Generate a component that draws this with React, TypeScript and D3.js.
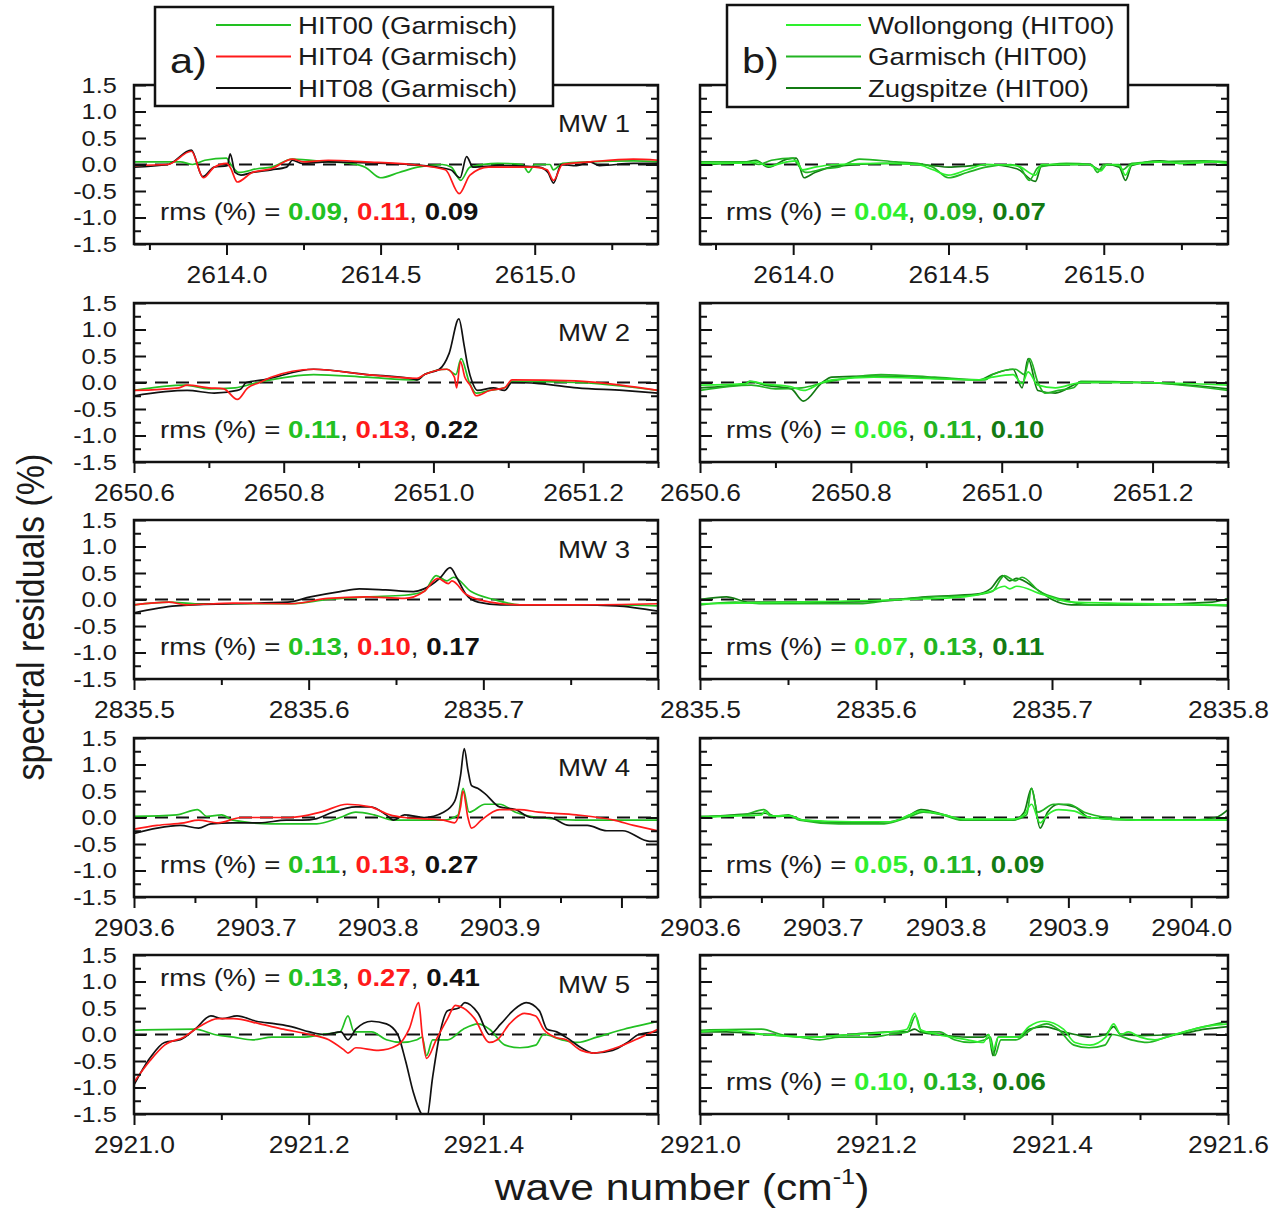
import React, { useEffect, useRef } from 'react';
import * as d3 from 'd3';

type Pt = [number, number];

// MW 1 (2613.7 - 2615.4 cm-1)
const mw1Hit00: Pt[] = [[2613.70, 0.05], [2613.85, 0.05], [2613.89, 0.0], [2613.93, 0.08], [2614.0, 0.12], [2614.012, 0.02], [2614.04, -0.15], [2614.1, -0.08], [2614.146, -0.05], [2614.214, 0.1], [2614.33, 0.05], [2614.4, 0.02], [2614.45, -0.05], [2614.5, -0.25], [2614.56, -0.15], [2614.62, -0.05], [2614.7, 0.0], [2614.73, -0.05], [2614.76, -0.3], [2614.79, -0.05], [2614.88, 0.02], [2614.96, 0.0], [2614.98, -0.15], [2615.0, 0.0], [2615.05, 0.0], [2615.06, -0.1], [2615.09, 0.02], [2615.18, 0.05], [2615.32, 0.07], [2615.4, 0.05]];
const mw1Hit04: Pt[] = [[2613.70, -0.02], [2613.81, 0.0], [2613.886, 0.25], [2613.925, -0.25], [2613.96, -0.05], [2614.0, 0.02], [2614.012, -0.05], [2614.035, -0.33], [2614.084, -0.15], [2614.146, -0.08], [2614.214, 0.1], [2614.25, 0.05], [2614.33, 0.08], [2614.45, 0.05], [2614.6, 0.0], [2614.71, -0.1], [2614.755, -0.55], [2614.79, -0.2], [2614.85, -0.05], [2615.0, -0.05], [2615.04, -0.1], [2615.061, -0.3], [2615.09, 0.0], [2615.18, 0.05], [2615.32, 0.1], [2615.4, 0.08]];
const mw1Hit08: Pt[] = [[2613.70, -0.05], [2613.81, 0.0], [2613.886, 0.27], [2613.923, -0.23], [2613.96, -0.05], [2614.003, -0.02], [2614.012, 0.2], [2614.028, -0.15], [2614.047, -0.2], [2614.084, -0.15], [2614.146, -0.1], [2614.195, -0.05], [2614.214, 0.08], [2614.245, 0.02], [2614.33, 0.05], [2614.517, 0.02], [2614.64, -0.02], [2614.727, -0.1], [2614.758, -0.25], [2614.779, 0.15], [2614.8, -0.05], [2614.888, -0.02], [2615.014, -0.05], [2615.043, -0.15], [2615.061, -0.35], [2615.086, 0.0], [2615.136, -0.02], [2615.179, 0.05], [2615.21, -0.02], [2615.32, 0.02], [2615.4, 0.02]];
const mw1Wol: Pt[] = [[2613.7, 0.02], [2613.85, 0.03], [2613.88, 0.05], [2613.92, -0.03], [2613.98, 0.05], [2614.01, 0.07], [2614.03, -0.1], [2614.07, -0.05], [2614.14, 0.0], [2614.3, 0.02], [2614.4, 0.0], [2614.45, -0.1], [2614.5, -0.2], [2614.56, -0.1], [2614.62, 0.0], [2614.72, -0.02], [2614.78, -0.2], [2614.8, 0.0], [2614.95, 0.0], [2614.99, -0.12], [2615.01, 0.0], [2615.05, -0.02], [2615.07, -0.2], [2615.09, 0.0], [2615.18, 0.05], [2615.25, 0.02], [2615.35, 0.05], [2615.4, 0.02]];
const mw1Zug: Pt[] = [[2613.7, 0.0], [2613.85, 0.05], [2613.88, 0.08], [2613.92, -0.05], [2613.98, 0.1], [2614.01, 0.12], [2614.035, -0.25], [2614.07, -0.15], [2614.14, -0.03], [2614.3, 0.02], [2614.4, 0.0], [2614.45, -0.02], [2614.5, -0.05], [2614.56, -0.03], [2614.62, 0.0], [2614.72, -0.08], [2614.78, -0.32], [2614.8, -0.02], [2614.95, 0.0], [2614.99, -0.1], [2615.01, 0.0], [2615.05, -0.05], [2615.07, -0.3], [2615.09, -0.02], [2615.18, 0.07], [2615.25, 0.02], [2615.35, 0.05], [2615.4, 0.03]];

// MW 2 (2650.6 - 2651.3 cm-1)
const mw2Hit00: Pt[] = [[2650.6, -0.15], [2650.668, -0.05], [2650.7, -0.12], [2650.735, -0.1], [2650.765, 0.0], [2650.84, 0.15], [2650.911, 0.1], [2650.978, 0.05], [2650.988, 0.15], [2651.018, 0.25], [2651.03, 0.15], [2651.037, 0.45], [2651.048, 0.0], [2651.057, -0.2], [2651.075, -0.15], [2651.095, -0.1], [2651.105, 0.02], [2651.19, 0.0], [2651.3, -0.15]];
const mw2Hit04: Pt[] = [[2650.6, -0.15], [2650.66, -0.1], [2650.671, -0.05], [2650.7, -0.1], [2650.72, -0.12], [2650.738, -0.32], [2650.752, -0.1], [2650.768, 0.0], [2650.783, 0.1], [2650.84, 0.25], [2650.911, 0.15], [2650.978, 0.08], [2650.988, 0.15], [2651.018, 0.25], [2651.028, 0.1], [2651.031, -0.1], [2651.036, 0.4], [2651.042, 0.1], [2651.049, -0.05], [2651.057, -0.25], [2651.075, -0.15], [2651.095, -0.1], [2651.105, 0.05], [2651.19, 0.03], [2651.25, -0.05], [2651.3, -0.15]];
const mw2Hit08: Pt[] = [[2650.6, -0.25], [2650.671, -0.15], [2650.707, -0.2], [2650.738, -0.15], [2650.743, -0.12], [2650.75, 0.0], [2650.773, 0.05], [2650.84, 0.25], [2650.911, 0.15], [2650.972, 0.07], [2650.978, 0.05], [2650.988, 0.15], [2651.008, 0.25], [2651.021, 0.55], [2651.034, 1.2], [2651.041, 0.7], [2651.046, 0.3], [2651.052, 0.0], [2651.059, -0.15], [2651.08, -0.1], [2651.095, -0.15], [2651.105, 0.0], [2651.141, -0.02], [2651.192, -0.1], [2651.253, -0.15], [2651.3, -0.2]];
const mw2Wol: Pt[] = [[2650.6, -0.05], [2650.661, -0.02], [2650.666, 0.02], [2650.686, -0.03], [2650.721, -0.08], [2650.737, -0.15], [2650.762, 0.0], [2650.775, 0.05], [2650.83, 0.1], [2650.97, 0.05], [2650.987, 0.1], [2651.015, 0.15], [2651.027, -0.02], [2651.035, 0.2], [2651.048, -0.05], [2651.071, -0.1], [2651.106, 0.0], [2651.18, 0.0], [2651.3, -0.05]];
const mw2Zug: Pt[] = [[2650.6, -0.1], [2650.661, -0.02], [2650.666, 0.02], [2650.686, -0.05], [2650.721, -0.12], [2650.737, -0.35], [2650.762, 0.0], [2650.775, 0.1], [2650.83, 0.12], [2650.97, 0.05], [2650.987, 0.15], [2651.015, 0.25], [2651.027, -0.1], [2651.035, 0.45], [2651.048, -0.15], [2651.071, -0.2], [2651.106, 0.0], [2651.18, 0.0], [2651.3, -0.12]];

// MW 3 (2835.5 - 2835.8 cm-1)
const mw3Hit00: Pt[] = [[2835.5, -0.1], [2835.52, -0.05], [2835.535, -0.08], [2835.59, -0.08], [2835.611, 0.0], [2835.633, 0.05], [2835.655, 0.08], [2835.666, 0.15], [2835.673, 0.45], [2835.679, 0.35], [2835.683, 0.42], [2835.693, 0.15], [2835.706, 0.0], [2835.721, -0.1], [2835.776, -0.1], [2835.8, -0.12]];
const mw3Hit04: Pt[] = [[2835.5, -0.1], [2835.52, -0.05], [2835.53, -0.1], [2835.557, -0.07], [2835.59, -0.08], [2835.611, 0.02], [2835.633, 0.05], [2835.655, 0.02], [2835.666, 0.15], [2835.674, 0.4], [2835.68, 0.3], [2835.682, 0.35], [2835.69, 0.1], [2835.704, -0.05], [2835.721, -0.1], [2835.754, -0.1], [2835.8, -0.08]];
const mw3Hit08: Pt[] = [[2835.5, -0.25], [2835.524, -0.12], [2835.557, -0.08], [2835.588, -0.05], [2835.601, 0.05], [2835.618, 0.15], [2835.629, 0.2], [2835.644, 0.18], [2835.66, 0.15], [2835.666, 0.2], [2835.675, 0.4], [2835.681, 0.6], [2835.685, 0.4], [2835.69, 0.1], [2835.697, -0.05], [2835.71, -0.1], [2835.754, -0.1], [2835.776, -0.12], [2835.8, -0.22]];
const mw3Wol: Pt[] = [[2835.5, -0.08], [2835.552, -0.05], [2835.617, 0.0], [2835.65, 0.05], [2835.665, 0.15], [2835.673, 0.25], [2835.676, 0.2], [2835.68, 0.25], [2835.694, 0.1], [2835.711, -0.05], [2835.8, -0.1]];
const mw3Zug: Pt[] = [[2835.5, 0.0], [2835.515, 0.05], [2835.528, -0.05], [2835.574, -0.05], [2835.607, -0.02], [2835.628, 0.05], [2835.657, 0.1], [2835.665, 0.2], [2835.672, 0.45], [2835.676, 0.35], [2835.68, 0.4], [2835.691, 0.2], [2835.7, 0.0], [2835.711, -0.1], [2835.748, -0.1], [2835.791, -0.05], [2835.8, 0.02]];

// MW 4 (2903.6 - 2904.03 cm-1)
const mw4Hit00: Pt[] = [[2903.6, 0.02], [2903.635, 0.05], [2903.652, 0.15], [2903.66, 0.02], [2903.672, 0.05], [2903.681, -0.05], [2903.713, -0.12], [2903.75, -0.12], [2903.769, 0.0], [2903.782, 0.1], [2903.797, 0.05], [2903.813, -0.05], [2903.854, -0.05], [2903.866, 0.05], [2903.87, 0.55], [2903.875, 0.1], [2903.888, 0.25], [2903.9, 0.25], [2903.913, 0.1], [2903.932, 0.0], [2903.963, -0.05], [2904.03, -0.05]];
const mw4Hit04: Pt[] = [[2903.6, -0.22], [2903.619, -0.15], [2903.641, -0.1], [2903.653, -0.05], [2903.669, -0.1], [2903.688, 0.0], [2903.728, 0.0], [2903.753, 0.1], [2903.775, 0.25], [2903.794, 0.2], [2903.81, 0.05], [2903.822, 0.0], [2903.854, -0.05], [2903.863, -0.1], [2903.868, 0.2], [2903.87, 0.5], [2903.874, 0.0], [2903.877, -0.2], [2903.885, -0.05], [2903.894, 0.1], [2903.9, 0.15], [2903.916, 0.15], [2903.932, 0.1], [2903.963, 0.05], [2903.994, -0.05], [2904.01, -0.15], [2904.03, -0.25]];
const mw4Hit08: Pt[] = [[2903.6, -0.3], [2903.619, -0.2], [2903.638, -0.15], [2903.653, -0.2], [2903.663, -0.12], [2903.681, -0.1], [2903.703, -0.1], [2903.725, -0.05], [2903.738, -0.05], [2903.75, -0.02], [2903.763, 0.1], [2903.782, 0.2], [2903.794, 0.2], [2903.807, 0.05], [2903.813, -0.05], [2903.822, 0.05], [2903.838, 0.0], [2903.854, 0.1], [2903.863, 0.3], [2903.868, 0.8], [2903.871, 1.3], [2903.874, 0.9], [2903.877, 0.6], [2903.882, 0.55], [2903.888, 0.45], [2903.9, 0.2], [2903.913, 0.15], [2903.926, 0.0], [2903.941, 0.0], [2903.957, -0.15], [2903.972, -0.15], [2903.988, -0.25], [2904.001, -0.25], [2904.023, -0.45], [2904.03, -0.45]];
const mw4Wol: Pt[] = [[2903.6, 0.0], [2903.628, 0.03], [2903.65, 0.05], [2903.653, 0.12], [2903.657, 0.03], [2903.673, 0.03], [2903.684, -0.05], [2903.724, -0.08], [2903.755, -0.08], [2903.771, 0.05], [2903.78, 0.12], [2903.799, 0.05], [2903.815, -0.03], [2903.855, -0.03], [2903.864, 0.05], [2903.87, 0.25], [2903.877, -0.1], [2903.883, 0.05], [2903.892, 0.15], [2903.905, 0.12], [2903.917, 0.0], [2903.955, -0.05], [2904.0, -0.05], [2904.03, -0.05]];
const mw4Zug: Pt[] = [[2903.6, 0.0], [2903.628, 0.05], [2903.653, 0.08], [2903.662, 0.02], [2903.673, 0.03], [2903.684, -0.05], [2903.724, -0.1], [2903.755, -0.08], [2903.771, 0.05], [2903.78, 0.15], [2903.799, 0.05], [2903.815, -0.05], [2903.855, -0.05], [2903.864, 0.1], [2903.87, 0.55], [2903.877, -0.2], [2903.883, 0.1], [2903.892, 0.25], [2903.905, 0.2], [2903.917, 0.0], [2903.955, -0.05], [2904.0, -0.05], [2904.02, 0.0], [2904.03, 0.15]];

// MW 5 (2921.0 - 2921.6 cm-1)
const mw5Hit00: Pt[] = [[2921.0, 0.08], [2921.07, 0.1], [2921.092, 0.0], [2921.114, -0.05], [2921.136, -0.1], [2921.158, -0.05], [2921.193, -0.05], [2921.215, 0.0], [2921.236, 0.05], [2921.245, 0.35], [2921.252, 0.05], [2921.272, 0.05], [2921.289, -0.1], [2921.307, -0.15], [2921.324, -0.1], [2921.33, -0.05], [2921.335, -0.4], [2921.342, -0.1], [2921.359, -0.1], [2921.377, 0.1], [2921.394, 0.2], [2921.407, 0.1], [2921.425, -0.2], [2921.442, -0.25], [2921.46, -0.2], [2921.469, 0.0], [2921.49, -0.1], [2921.508, -0.15], [2921.53, -0.05], [2921.561, 0.1], [2921.587, 0.2], [2921.6, 0.25]];
const mw5Hit04: Pt[] = [[2921.0, -0.9], [2921.018, -0.5], [2921.035, -0.2], [2921.057, -0.05], [2921.075, 0.15], [2921.096, 0.3], [2921.114, 0.3], [2921.144, 0.2], [2921.171, 0.1], [2921.201, 0.0], [2921.223, -0.1], [2921.241, -0.3], [2921.245, -0.35], [2921.254, -0.25], [2921.28, -0.3], [2921.302, -0.2], [2921.315, 0.1], [2921.326, 0.6], [2921.33, 0.0], [2921.335, -0.45], [2921.346, -0.1], [2921.359, 0.3], [2921.368, 0.55], [2921.377, 0.5], [2921.39, 0.3], [2921.407, -0.15], [2921.416, -0.1], [2921.43, 0.2], [2921.447, 0.4], [2921.46, 0.35], [2921.469, 0.1], [2921.482, -0.05], [2921.495, -0.1], [2921.512, -0.3], [2921.526, -0.35], [2921.552, -0.25], [2921.574, -0.1], [2921.6, 0.1]];
const mw5Hit08: Pt[] = [[2921.0, -0.95], [2921.018, -0.45], [2921.035, -0.15], [2921.053, -0.1], [2921.07, 0.1], [2921.088, 0.35], [2921.101, 0.3], [2921.118, 0.35], [2921.14, 0.25], [2921.162, 0.2], [2921.18, 0.15], [2921.201, 0.05], [2921.219, 0.0], [2921.237, 0.05], [2921.245, -0.1], [2921.254, 0.1], [2921.272, 0.25], [2921.289, 0.2], [2921.302, 0.0], [2921.311, -0.5], [2921.32, -1.1], [2921.329, -1.5], [2921.335, -1.6], [2921.342, -0.8], [2921.35, 0.0], [2921.359, 0.45], [2921.372, 0.5], [2921.379, 0.6], [2921.394, 0.4], [2921.407, 0.0], [2921.42, 0.2], [2921.434, 0.45], [2921.449, 0.6], [2921.464, 0.45], [2921.473, 0.1], [2921.484, 0.05], [2921.499, -0.1], [2921.512, -0.25], [2921.526, -0.35], [2921.548, -0.3], [2921.565, -0.15], [2921.578, 0.0], [2921.6, 0.05]];
const mw5Wol: Pt[] = [[2921.0, 0.05], [2921.03, 0.08], [2921.074, 0.0], [2921.126, -0.05], [2921.17, 0.0], [2921.217, 0.05], [2921.235, 0.1], [2921.244, 0.4], [2921.25, 0.1], [2921.27, 0.0], [2921.304, -0.1], [2921.322, -0.15], [2921.328, 0.0], [2921.333, -0.3], [2921.339, -0.05], [2921.361, -0.05], [2921.374, 0.15], [2921.391, 0.25], [2921.413, 0.1], [2921.426, -0.15], [2921.443, -0.2], [2921.461, -0.05], [2921.47, 0.2], [2921.478, 0.0], [2921.487, 0.05], [2921.5, -0.05], [2921.517, -0.1], [2921.539, 0.0], [2921.574, 0.15], [2921.6, 0.2]];
const mw5Zug: Pt[] = [[2921.0, 0.05], [2921.03, 0.05], [2921.074, 0.0], [2921.126, -0.05], [2921.17, 0.0], [2921.217, 0.05], [2921.235, 0.05], [2921.244, 0.1], [2921.25, 0.05], [2921.27, 0.0], [2921.304, -0.05], [2921.322, -0.05], [2921.328, 0.0], [2921.333, -0.4], [2921.339, -0.05], [2921.361, -0.05], [2921.374, 0.1], [2921.391, 0.15], [2921.413, 0.05], [2921.426, 0.0], [2921.443, -0.05], [2921.461, 0.0], [2921.47, 0.15], [2921.478, 0.0], [2921.5, -0.02], [2921.539, 0.0], [2921.574, 0.1], [2921.6, 0.15]];

const mwLabels = ['MW 1', 'MW 2', 'MW 3', 'MW 4', 'MW 5'];
const xDomains: [number, number][] = [[2613.7, 2615.4], [2650.6, 2651.3], [2835.5, 2835.8], [2903.6, 2904.03], [2921.0, 2921.6]];
const xMajorTicks = [[2614.0, 2614.5, 2615.0], [2650.6, 2650.8, 2651.0, 2651.2], [2835.5, 2835.6, 2835.7, 2835.8], [2903.6, 2903.7, 2903.8, 2903.9, 2904.0], [2921.0, 2921.2, 2921.4, 2921.6]];
const xMinorTicks = [[2613.75, 2614.25, 2614.75, 2615.25], [2650.7, 2650.9, 2651.1, 2651.3], [2835.55, 2835.65, 2835.75], [2903.65, 2903.75, 2903.85, 2903.95], [2921.1, 2921.3, 2921.5]];
const xLabelsA = [['2614.0', '2614.5', '2615.0'], ['2650.6', '2650.8', '2651.0', '2651.2'], ['2835.5', '2835.6', '2835.7'], ['2903.6', '2903.7', '2903.8', '2903.9'], ['2921.0', '2921.2', '2921.4']];
const xLabelsB = [['2614.0', '2614.5', '2615.0'], ['2650.6', '2650.8', '2651.0', '2651.2'], ['2835.5', '2835.6', '2835.7', '2835.8'], ['2903.6', '2903.7', '2903.8', '2903.9', '2904.0'], ['2921.0', '2921.2', '2921.4', '2921.6']];
const yMajorTicks = [-1.5, -1.0, -0.5, 0, 0.5, 1.0, 1.5];
const yMinorTicks = [-1.25, -0.75, -0.25, 0.25, 0.75, 1.25];
const rmsA = [['0.09', '0.11', '0.09'], ['0.11', '0.13', '0.22'], ['0.13', '0.10', '0.17'], ['0.11', '0.13', '0.27'], ['0.13', '0.27', '0.41']];
const rmsB = [['0.04', '0.09', '0.07'], ['0.06', '0.11', '0.10'], ['0.07', '0.13', '0.11'], ['0.05', '0.11', '0.09'], ['0.10', '0.13', '0.06']];
const legendA = ['HIT00 (Garmisch)', 'HIT04 (Garmisch)', 'HIT08 (Garmisch)'];
const legendB = ['Wollongong (HIT00)', 'Garmisch (HIT00)', 'Zugspitze (HIT00)'];

const seriesA = [[mw1Hit00, mw1Hit04, mw1Hit08], [mw2Hit00, mw2Hit04, mw2Hit08], [mw3Hit00, mw3Hit04, mw3Hit08], [mw4Hit00, mw4Hit04, mw4Hit08], [mw5Hit00, mw5Hit04, mw5Hit08]];
// Garmisch HIT00 is the same spectrum in both columns
const seriesB = [[mw1Wol, mw1Hit00, mw1Zug], [mw2Wol, mw2Hit00, mw2Zug], [mw3Wol, mw3Hit00, mw3Zug], [mw4Wol, mw4Hit00, mw4Zug], [mw5Wol, mw5Hit00, mw5Zug]];

const colorsA = ['#22c022', '#ff1a1a', '#111111'];
const colorsB = ['#2ef02e', '#22b422', '#137a13'];
const drawOrderA = [0, 2, 1];
const drawOrderB = [2, 1, 0];

const W = 1275;
const H = 1211;
const FONT = '"Liberation Sans", Arial, Helvetica, sans-serif';
const SX = 1.15; // the figure is a little wider than tall
const TXT = '#1a1a1a';
const colA = { x0: 134, x1: 658 };
const colB = { x0: 700, x1: 1228 };
const rowTops = [85, 303, 520, 738, 955];
const rowH = 159;

const App = () => {
  const ref = useRef<SVGSVGElement>(null);

  useEffect(() => {
    const svg = d3.select(ref.current);
    svg.selectAll('*').remove();
    svg.append('rect').attr('width', W).attr('height', H).attr('fill', '#fff');

    const addText = (parent: any, x: number, y: number, str: string, size: number, anchor = 'start') =>
      parent.append('text')
        .attr('transform', `translate(${x},${y}) scale(${SX},1)`)
        .attr('font-family', FONT)
        .attr('font-size', size)
        .attr('fill', TXT)
        .attr('text-anchor', anchor)
        .text(str);

    const drawPanel = (i: number, col: { x0: number; x1: number }, series: Pt[][], colors: string[], order: number[],
      rms: string[], labels: string[], isLeft: boolean, id: string) => {
      const top = rowTops[i];
      const bottom = top + rowH;
      const x = d3.scaleLinear().domain(xDomains[i]).range([col.x0, col.x1]);
      const y = d3.scaleLinear().domain([-1.5, 1.5]).range([bottom, top]);
      const g = svg.append('g');

      g.append('clipPath').attr('id', id)
        .append('rect').attr('x', col.x0).attr('y', top).attr('width', col.x1 - col.x0).attr('height', rowH);

      const plot = g.append('g').attr('clip-path', `url(#${id})`);
      plot.append('line')
        .attr('x1', col.x0).attr('x2', col.x1)
        .attr('y1', y(0)).attr('y2', y(0))
        .attr('stroke', '#111').attr('stroke-width', 2).attr('stroke-dasharray', '13,8');

      const line = d3.line<Pt>().x(d => x(d[0])).y(d => y(d[1])).curve(d3.curveMonotoneX);
      order.forEach(k => {
        plot.append('path').datum(series[k])
          .attr('fill', 'none').attr('stroke', colors[k]).attr('stroke-width', 1.7)
          .attr('stroke-linejoin', 'round').attr('d', line);
      });

      const styleAxis = (a: any, size: number) => {
        a.select('.domain').remove();
        a.attr('font-family', FONT).attr('font-size', size).attr('color', '#111');
        a.selectAll('line').attr('stroke-width', 2);
        a.selectAll('text').attr('fill', TXT).attr('transform', `scale(${SX},1)`);
      };

      // y axes, ticks pointing inward on both sides
      g.append('g').attr('transform', `translate(${col.x0},0)`)
        .call(d3.axisLeft(y).tickValues(yMajorTicks).tickSizeInner(-12).tickSizeOuter(0).tickPadding(15)
          .tickFormat(d => (isLeft ? (+d).toFixed(1) : '')))
        .call(a => styleAxis(a, 22));
      g.append('g').attr('transform', `translate(${col.x0},0)`)
        .call(d3.axisLeft(y).tickValues(yMinorTicks).tickSizeInner(-7).tickSizeOuter(0).tickFormat(() => ''))
        .call(a => styleAxis(a, 22));
      g.append('g').attr('transform', `translate(${col.x1},0)`)
        .call(d3.axisRight(y).tickValues(yMajorTicks).tickSizeInner(-12).tickSizeOuter(0).tickFormat(() => ''))
        .call(a => styleAxis(a, 22));
      g.append('g').attr('transform', `translate(${col.x1},0)`)
        .call(d3.axisRight(y).tickValues(yMinorTicks).tickSizeInner(-7).tickSizeOuter(0).tickFormat(() => ''))
        .call(a => styleAxis(a, 22));

      // x axis, ticks pointing down
      g.append('g').attr('transform', `translate(0,${bottom})`)
        .call(d3.axisBottom(x).tickValues(xMajorTicks[i]).tickSizeInner(11).tickSizeOuter(0).tickPadding(12)
          .tickFormat(d => (labels.includes((+d).toFixed(1)) ? (+d).toFixed(1) : '')))
        .call(a => styleAxis(a, 23));
      g.append('g').attr('transform', `translate(0,${bottom})`)
        .call(d3.axisBottom(x).tickValues(xMinorTicks[i]).tickSizeInner(6).tickSizeOuter(0).tickFormat(() => ''))
        .call(a => styleAxis(a, 23));

      g.append('rect')
        .attr('x', col.x0).attr('y', top).attr('width', col.x1 - col.x0).attr('height', rowH)
        .attr('fill', 'none').attr('stroke', '#111').attr('stroke-width', 2.5);

      // MW label (left column only) and rms values
      if (isLeft) addText(g, col.x1 - 28, i === 0 ? top + 47 : top + 38, mwLabels[i], 24, 'end');
      const rmsY = isLeft && i === 4 ? top + 31 : bottom - 24;
      const t = addText(g, col.x0 + 26, rmsY, '', 24);
      t.append('tspan').text('rms (%) = ');
      rms.forEach((v, k) => {
        if (k) t.append('tspan').text(', ');
        t.append('tspan').attr('font-weight', 'bold').attr('fill', colors[k]).text(v);
      });
    };

    for (let i = 0; i < 5; i++) {
      drawPanel(i, colA, seriesA[i], colorsA, drawOrderA, rmsA[i], xLabelsA[i], true, `clipA${i}`);
      drawPanel(i, colB, seriesB[i], colorsB, drawOrderB, rmsB[i], xLabelsB[i], false, `clipB${i}`);
    }

    // legends
    const drawLegend = (bx0: number, bx1: number, by0: number, by1: number, lx0: number, lx1: number,
      tag: string, tagX: number, names: string[], colors: string[]) => {
      const lg = svg.append('g');
      lg.append('rect').attr('x', bx0).attr('y', by0).attr('width', bx1 - bx0).attr('height', by1 - by0)
        .attr('fill', '#fff').attr('stroke', '#111').attr('stroke-width', 2.5);
      const rowY = d3.scalePoint<number>().domain([0, 1, 2]).range([25, 88]);
      names.forEach((n, k) => {
        lg.append('line').attr('x1', lx0).attr('x2', lx1).attr('y1', rowY(k)!).attr('y2', rowY(k)!)
          .attr('stroke', colors[k]).attr('stroke-width', 2.2);
        addText(lg, lx1 + 7, rowY(k)! + 8.5, n, 24);
      });
      addText(lg, tagX, 73, tag, 36);
    };
    drawLegend(155, 553, 7, 106, 216, 291, 'a)', 170, legendA, colorsA);
    drawLegend(727, 1128, 5, 107, 786, 861, 'b)', 742, legendB, colorsB);

    // axis titles
    svg.append('text')
      .attr('transform', `translate(44,617) rotate(-90) scale(1,${SX})`)
      .attr('font-family', FONT).attr('font-size', 34).attr('fill', TXT).attr('text-anchor', 'middle')
      .text('spectral residuals (%)');
    const xt = svg.append('text')
      .attr('transform', `translate(682,1200) scale(${SX},1)`)
      .attr('font-family', FONT).attr('font-size', 37).attr('fill', TXT).attr('text-anchor', 'middle');
    xt.append('tspan').text('wave number (cm');
    xt.append('tspan').attr('font-size', 22).attr('dy', -16).text('-1');
    xt.append('tspan').attr('dy', 16).text(')');
  }, []);

  return <svg ref={ref} width={W} height={H} style={{ position: 'absolute', left: 0, top: 0, display: 'block' }} />;
};

export default App;
